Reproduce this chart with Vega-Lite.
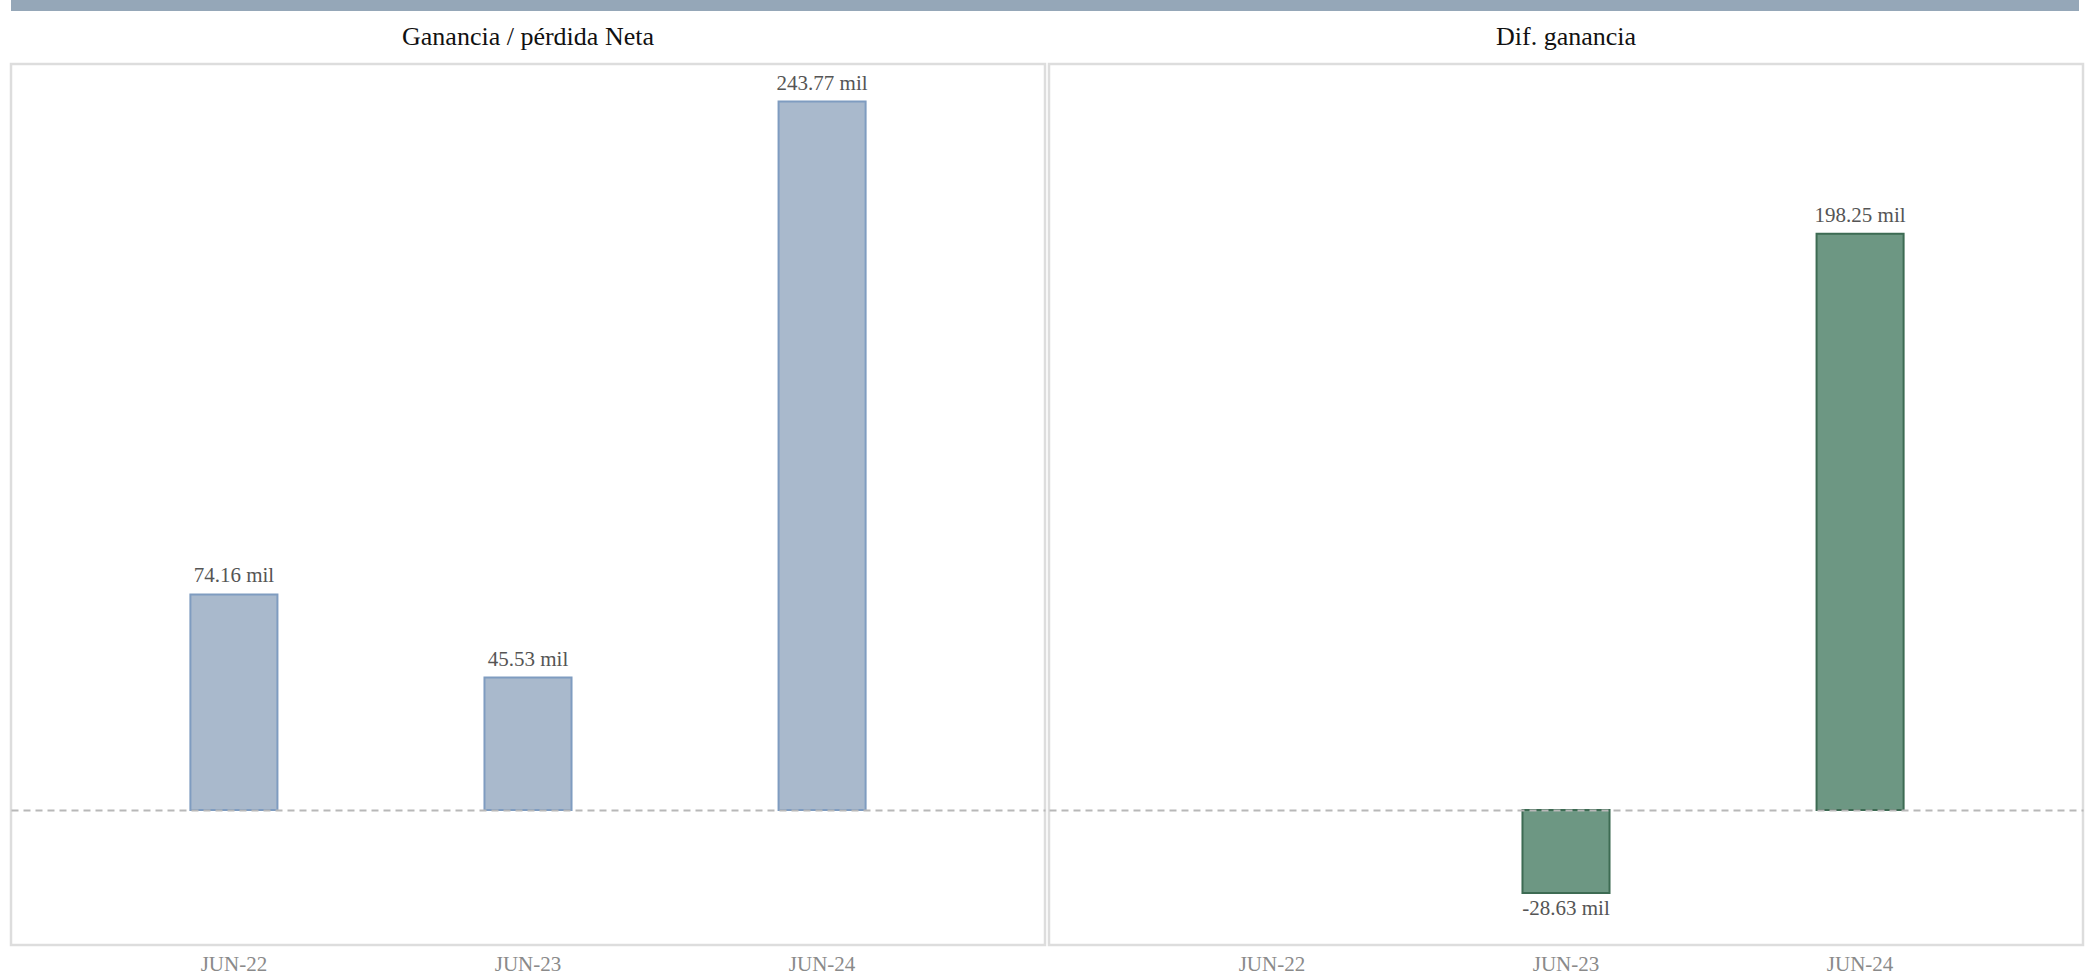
{
  "$schema": "https://vega.github.io/schema/vega-lite/v6.json",
  "padding": {"left": 9, "top": 0, "right": 0, "bottom": 0},
  "background": "white",
  "bounds": "flush",
  "spacing": 53,
  "data": {
    "values": [
      {"panel": "Ganancia / pérdida Neta", "period": "JUN-22", "value": 74.16, "label": "74.16 mil"},
      {"panel": "Ganancia / pérdida Neta", "period": "JUN-23", "value": 45.53, "label": "45.53 mil"},
      {"panel": "Ganancia / pérdida Neta", "period": "JUN-24", "value": 243.77, "label": "243.77 mil"},
      {"panel": "Dif. ganancia", "period": "JUN-23", "value": -28.63, "label": "-28.63 mil"},
      {"panel": "Dif. ganancia", "period": "JUN-24", "value": 198.25, "label": "198.25 mil"}
    ]
  },
  "config": {
    "view": {"stroke": "#dddddd", "strokeWidth": 2.5},
    "font": "Liberation Serif",
    "title": {"font": "Liberation Serif", "fontSize": 26, "fontWeight": "normal", "color": "#111111", "anchor": "middle", "offset": 14}
  },
  "vconcat": [
    {
      "width": 2068,
      "height": 11,
      "view": {"fill": "#95a7b8", "stroke": null},
      "mark": {"type": "point", "opacity": 0},
      "encoding": {"x": {"field": "period", "type": "nominal", "axis": null}}
    },
    {
      "spacing": 0,
      "hconcat": [
        {
          "title": "Ganancia / pérdida Neta",
          "width": 1034,
          "height": 881,
          "transform": [{"filter": "datum.panel == 'Ganancia / pérdida Neta'"}],
          "layer": [
            {
              "mark": {"type": "bar", "strokeWidth": 2, "fill": "#a9b9cc", "stroke": "#7f9cc0"},
              "encoding": {
                "x": {
                  "field": "period", "type": "ordinal",
                  "scale": {"domain": ["JUN-22", "JUN-23", "JUN-24"], "paddingInner": 0.704, "paddingOuter": 0.61},
                  "axis": {"title": null, "domain": false, "ticks": false, "labelAngle": 0, "labelFont": "Liberation Serif", "labelFontSize": 21, "labelColor": "#8a8a8a", "labelPadding": 8}
                },
                "y": {
                  "field": "value", "type": "quantitative",
                  "scale": {"domain": [-46.5, 256.7], "nice": false, "zero": false},
                  "axis": {"values": [0], "grid": true, "gridDash": [7, 5], "gridColor": "#b8b8b8", "gridWidth": 2, "labels": false, "ticks": false, "domain": false, "title": null, "zindex": 1, "minExtent": 0, "maxExtent": 0}
                }
              }
            },
            {
              "mark": {"type": "text", "font": "Liberation Serif", "fontSize": 21, "color": "#555555", "baseline": "alphabetic", "dy": -12},
              "encoding": {
                "x": {"field": "period", "type": "ordinal"},
                "y": {"field": "value", "type": "quantitative"},
                "text": {"field": "label", "type": "nominal"}
              }
            }
          ]
        },
        {
          "title": "Dif. ganancia",
          "width": 1034,
          "height": 881,
          "transform": [{"filter": "datum.panel == 'Dif. ganancia'"}],
          "layer": [
            {
              "mark": {"type": "bar", "strokeWidth": 2, "fill": "#6d9783", "stroke": "#3d6b53"},
              "encoding": {
                "x": {
                  "field": "period", "type": "ordinal",
                  "scale": {"domain": ["JUN-22", "JUN-23", "JUN-24"], "paddingInner": 0.704, "paddingOuter": 0.61},
                  "axis": {"title": null, "domain": false, "ticks": false, "labelAngle": 0, "labelFont": "Liberation Serif", "labelFontSize": 21, "labelColor": "#8a8a8a", "labelPadding": 8}
                },
                "y": {
                  "field": "value", "type": "quantitative",
                  "scale": {"domain": [-46.5, 256.7], "nice": false, "zero": false},
                  "axis": {"values": [0], "grid": true, "gridDash": [7, 5], "gridColor": "#b8b8b8", "gridWidth": 2, "labels": false, "ticks": false, "domain": false, "title": null, "zindex": 1, "minExtent": 0, "maxExtent": 0}
                }
              }
            },
            {
              "transform": [{"filter": "datum.value >= 0"}],
              "mark": {"type": "text", "font": "Liberation Serif", "fontSize": 21, "color": "#555555", "baseline": "alphabetic", "dy": -12},
              "encoding": {
                "x": {"field": "period", "type": "ordinal"},
                "y": {"field": "value", "type": "quantitative"},
                "text": {"field": "label", "type": "nominal"}
              }
            },
            {
              "transform": [{"filter": "datum.value < 0"}],
              "mark": {"type": "text", "font": "Liberation Serif", "fontSize": 21, "color": "#555555", "baseline": "alphabetic", "dy": 22},
              "encoding": {
                "x": {"field": "period", "type": "ordinal"},
                "y": {"field": "value", "type": "quantitative"},
                "text": {"field": "label", "type": "nominal"}
              }
            }
          ]
        }
      ]
    }
  ]
}
